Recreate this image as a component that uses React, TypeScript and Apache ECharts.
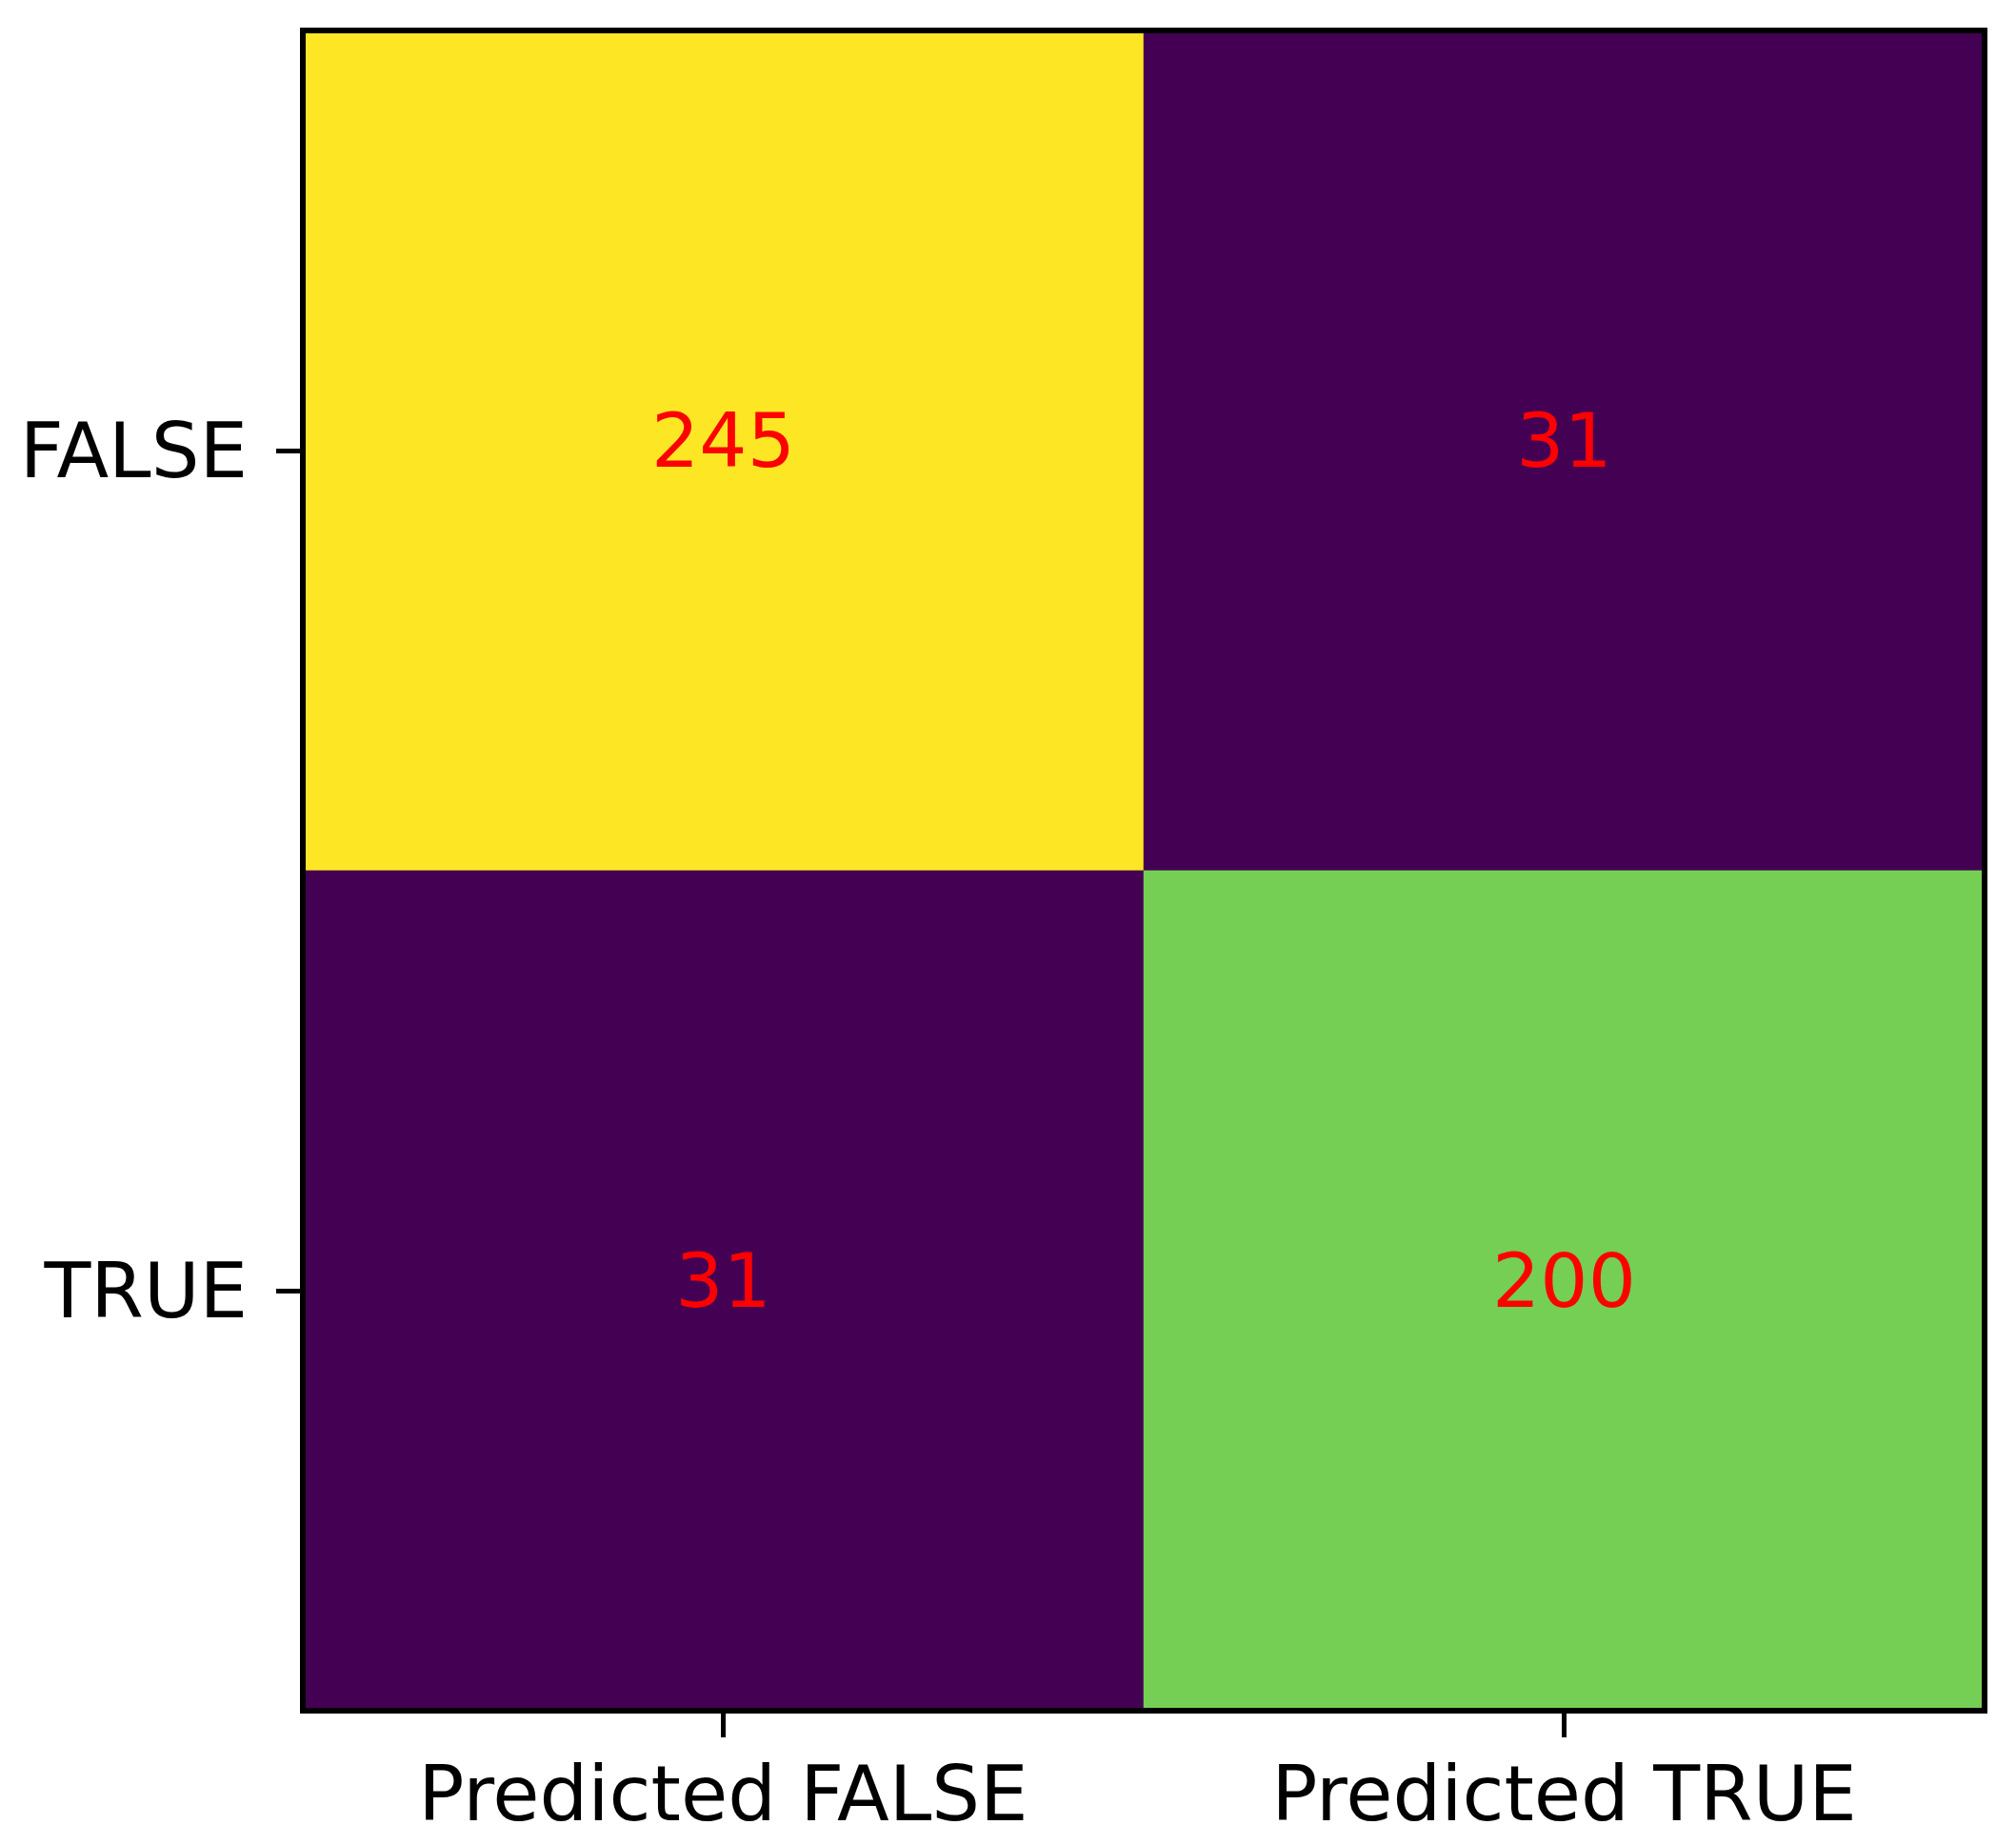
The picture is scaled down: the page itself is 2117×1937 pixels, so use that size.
import React, { useEffect, useRef } from "react";
import * as echarts from "echarts";

const predictedLabels = ["Predicted FALSE", "Predicted TRUE"];
const actualLabels = ["FALSE", "TRUE"];
// [predictedIndex, actualIndex, count]
const cellCounts: [number, number, number][] = [
  [0, 0, 245],
  [1, 0, 31],
  [0, 1, 31],
  [1, 1, 200],
];
const viridis = [
  "#440154", "#482475", "#414487", "#355f8d", "#2a788e", "#21918c",
  "#22a884", "#44bf70", "#7ad151", "#bddf26", "#fde725",
];

const FONT = "DejaVu Sans";

export default function App() {
  const ref = useRef<HTMLDivElement>(null);
  useEffect(() => {
    document.body.style.margin = "0";
    if (!ref.current) return;
    const chart = echarts.init(ref.current, undefined, { renderer: "svg" });
    const values = cellCounts.map((c) => c[2]);
    const frameLine = { show: true, lineStyle: { color: "#000", width: 6, cap: "square" } };
    chart.setOption({
      animation: false,
      backgroundColor: "#fff",
      grid: { left: 318, top: 32, width: 1766, height: 1764, containLabel: false },
      visualMap: {
        show: false,
        type: "continuous",
        min: Math.min(...values),
        max: Math.max(...values),
        dimension: 2,
        inRange: { color: viridis },
      },
      xAxis: [
        {
          type: "category",
          data: predictedLabels,
          position: "bottom",
          z: 10,
          axisLine: frameLine,
          axisTick: { show: true, alignWithLabel: true, length: 28, lineStyle: { color: "#000", width: 5 } },
          axisLabel: { color: "#000", fontFamily: FONT, fontSize: 80, margin: 47 },
          splitLine: { show: false },
        },
        {
          type: "category",
          data: predictedLabels,
          position: "top",
          z: 10,
          axisLine: frameLine,
          axisTick: { show: false },
          axisLabel: { show: false },
          splitLine: { show: false },
        },
      ],
      yAxis: [
        {
          type: "category",
          data: actualLabels,
          inverse: true,
          position: "left",
          z: 10,
          axisLine: frameLine,
          axisTick: { show: true, alignWithLabel: true, length: 28, lineStyle: { color: "#000", width: 5 } },
          axisLabel: { color: "#000", fontFamily: FONT, fontSize: 80, margin: 58 },
          splitLine: { show: false },
        },
        {
          type: "category",
          data: actualLabels,
          inverse: true,
          position: "right",
          z: 10,
          axisLine: frameLine,
          axisTick: { show: false },
          axisLabel: { show: false },
          splitLine: { show: false },
        },
      ],
      series: [
        {
          type: "heatmap",
          xAxisIndex: 0,
          yAxisIndex: 0,
          data: cellCounts,
          label: {
            show: true,
            formatter: (p: any) => String(p.value[2]),
            color: "#ff0000",
            fontFamily: FONT,
            fontSize: 79,
            offset: [0, -10],
          },
          itemStyle: { borderWidth: 0 },
          emphasis: { disabled: true },
        },
      ],
    });
    return () => chart.dispose();
  }, []);
  return <div ref={ref} style={{ width: 2117, height: 1937 }} />;
}
